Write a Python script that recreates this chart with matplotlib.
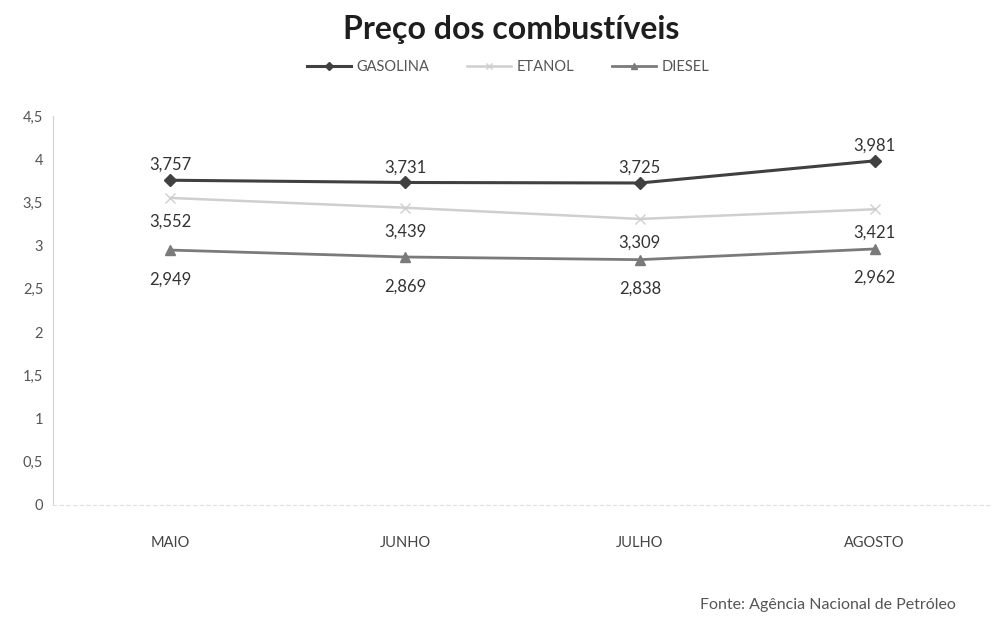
import matplotlib
matplotlib.use("Agg")
import matplotlib.pyplot as plt
from matplotlib.ticker import FuncFormatter

plt.rcParams['font.family'] = ['Lato', 'DejaVu Sans']

meses = ["MAIO", "JUNHO", "JULHO", "AGOSTO"]
gasolina = [3.757, 3.731, 3.725, 3.981]
etanol = [3.552, 3.439, 3.309, 3.421]
diesel = [2.949, 2.869, 2.838, 2.962]
yticks = [0, 0.5, 1, 1.5, 2, 2.5, 3, 3.5, 4, 4.5]

def br(v, casas=3):
    s = f"{v:.{casas}f}"
    return s.replace(".", ",")

fig = plt.figure(figsize=(10.03, 6.27), dpi=100)
ax = fig.add_axes([53 / 1003, 122 / 627, 939 / 1003, 389 / 627])

x = list(range(len(meses)))
# nome, valores, cor, marcador, espessura, deslocamento do rótulo (pt)
series = [
    ("GASOLINA", gasolina, "#404040", "D", 2.2, 11),
    ("ETANOL", etanol, "#cfcfcf", "x", 1.8, -17),
    ("DIESEL", diesel, "#7a7a7a", "^", 2.0, -21),
]
for nome, vals, cor, mk, lw, dy in series:
    ax.plot(x, vals, color=cor, lw=lw, marker=mk, markersize=6.5,
            markerfacecolor=cor, markeredgecolor=cor, label=nome, zorder=3)
    for xi, v in zip(x, vals):
        ax.annotate(br(v), (xi, v), xytext=(0, dy), textcoords="offset points",
                    ha="center", va="center", fontsize=12, color="#333333")

ax.set_xlim(-0.5, 3.5)
ax.set_ylim(0, 4.5)
ax.set_yticks(yticks)
ax.yaxis.set_major_formatter(FuncFormatter(lambda v, p: ("%g" % v).replace(".", ",")))
ax.set_xticks(x)
ax.set_xticklabels(meses)
ax.tick_params(axis="y", length=0, pad=7, labelsize=10.5, labelcolor="#555555")
ax.tick_params(axis="x", length=0, pad=22, labelsize=10.5, labelcolor="#444444")

for s in ["top", "right"]:
    ax.spines[s].set_visible(False)
ax.spines["left"].set_color("#d0d0d0")
ax.spines["bottom"].set_color("#e0e0e0")
ax.spines["bottom"].set_linestyle((0, (3, 3)))

fig.text(0.51, 1 - 30 / 627, "Preço dos combustíveis", ha="center", va="center",
         fontsize=23, fontweight="bold", color="#1e1e1e")

leg = ax.legend(loc="center", bbox_to_anchor=(0.485, 1.125), ncol=3, frameon=False,
                fontsize=10.5, handlelength=3.0, columnspacing=2.6, handletextpad=0.4,
                markerscale=0.6)
for t in leg.get_texts():
    t.set_color("#555555")

fig.text(700 / 1003, 1 - 605 / 627, "Fonte: Agência Nacional de Petróleo",
         ha="left", va="center", fontsize=11.5, color="#555555")

fig.savefig("out.png", dpi=100, facecolor="white")
